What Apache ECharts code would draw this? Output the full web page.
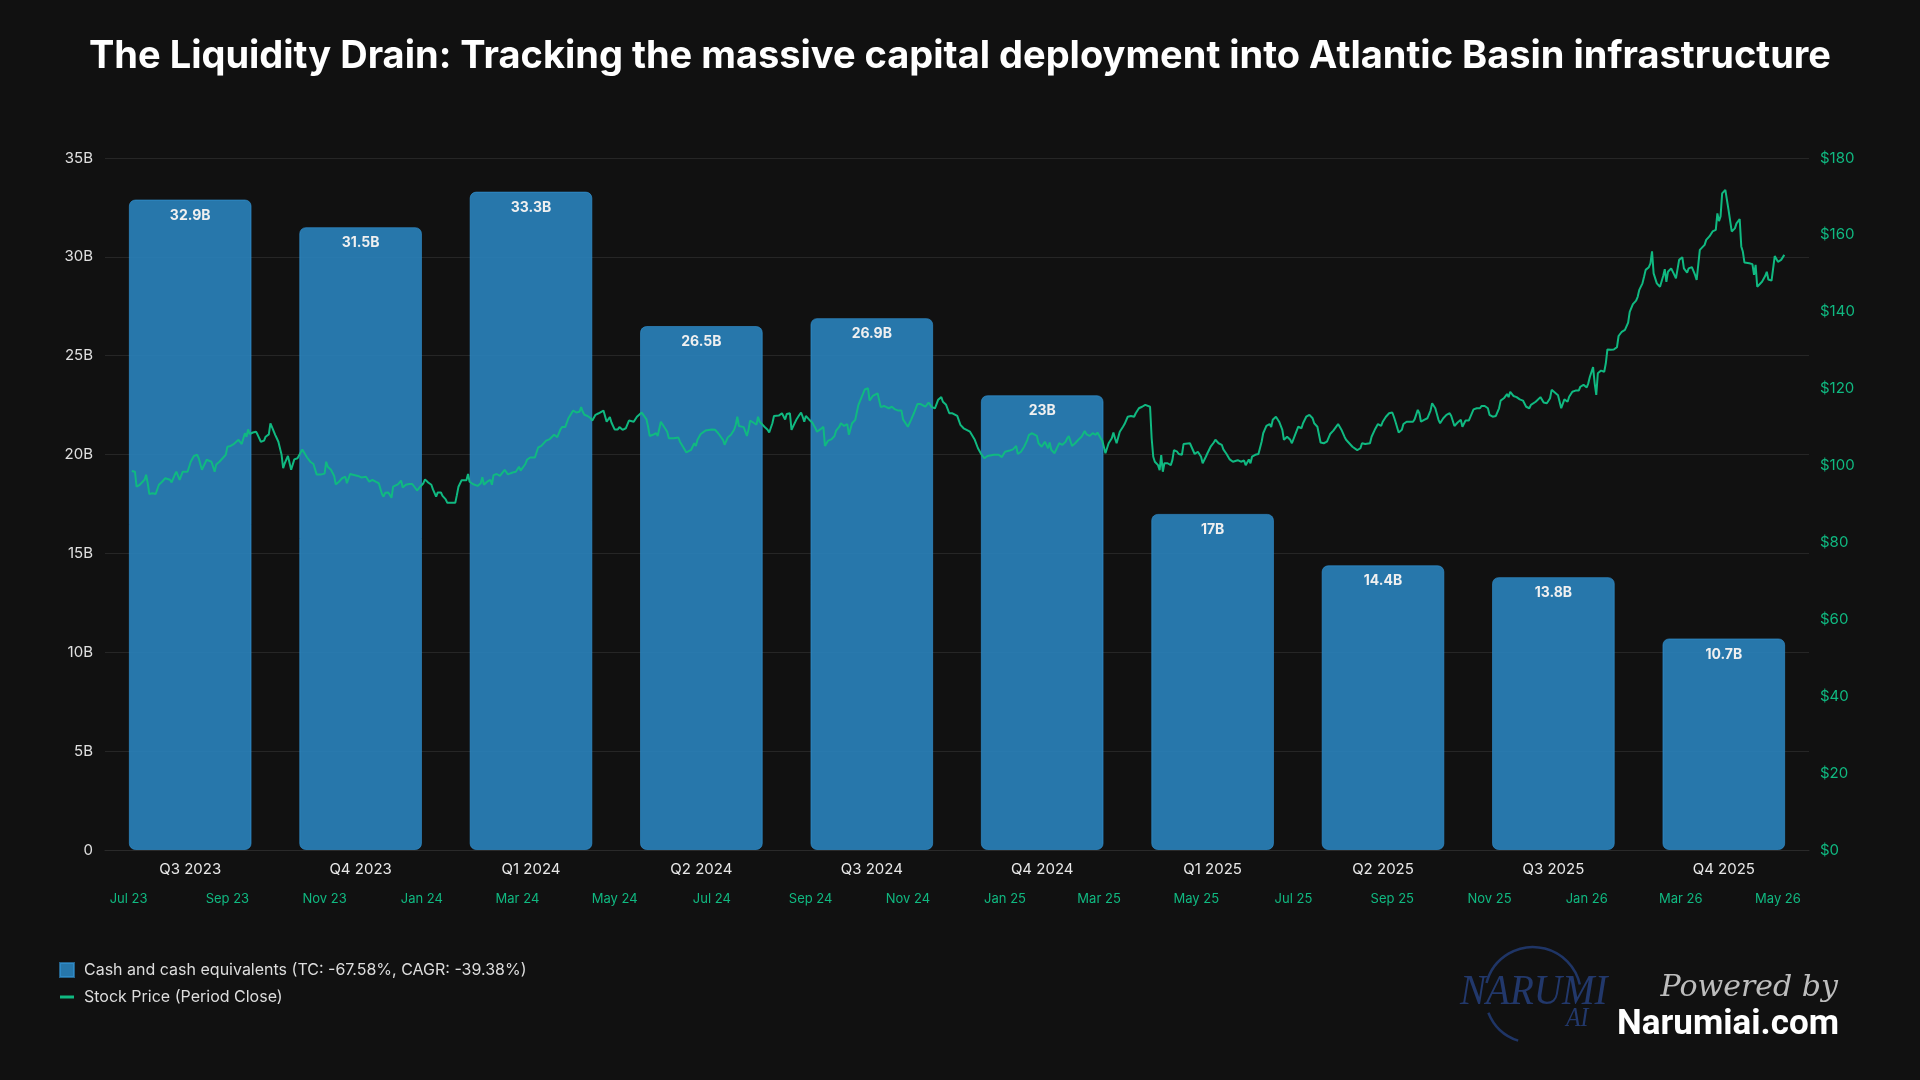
<!DOCTYPE html>
<html><head><meta charset="utf-8">
<script src="https://cdn.jsdelivr.net/npm/echarts@6/dist/echarts.min.js"></script>
<style>html,body{margin:0;padding:0;background:#111111;}#chart{width:1920px;height:1080px;}</style>
</head><body><div id="chart"></div>
<script>
const titleText = 'The Liquidity Drain: Tracking the massive capital deployment into Atlantic Basin infrastructure';
const quarters = ['Q3 2023','Q4 2023','Q1 2024','Q2 2024','Q3 2024','Q4 2024','Q1 2025','Q2 2025','Q3 2025','Q4 2025'];
const cashB = [32.9, 31.5, 33.3, 26.5, 26.9, 23, 17, 14.4, 13.8, 10.7];
const cashName = 'Cash and cash equivalents (TC: -67.58%, CAGR: -39.38%)';
const priceName = 'Stock Price (Period Close)';
const timeTicks = ['2023-07-01','2023-09-01','2023-11-01','2024-01-01','2024-03-01','2024-05-01','2024-07-01','2024-09-01','2024-11-01','2025-01-01','2025-03-01','2025-05-01','2025-07-01','2025-09-01','2025-11-01','2026-01-01','2026-03-01','2026-05-01'];
const monthNames = ['Jan','Feb','Mar','Apr','May','Jun','Jul','Aug','Sep','Oct','Nov','Dec'];
// stock price: days since 2023-07-01 and closing price
const priceBaseDate = '2023-07-01';
const priceDays = [2,4,5,7,10,11,12,13,15,17,19,21,23,24,26,27,29,30,32,34,35,37,39,41,43,44,46,47,49,50,52,54,55,57,59,61,62,64,66,67,69,71,73,74,75,76,78,80,81,83,85,86,88,89,90,92,93,94,96,97,98,100,102,103,104,106,107,109,110,111,112,114,116,117,118,121,123,124,125,127,129,130,132,134,136,137,139,140,142,144,146,147,149,151,153,155,157,159,160,161,163,165,166,167,169,170,171,172,174,176,178,180,181,183,185,186,188,190,191,193,194,196,197,199,200,202,205,206,207,209,210,212,213,214,216,217,219,221,222,223,225,227,228,229,231,233,234,236,238,239,241,243,245,246,247,249,250,252,253,255,257,259,260,262,264,265,267,269,271,272,274,276,277,279,281,283,284,285,286,288,290,291,293,295,296,298,299,300,302,303,305,307,308,310,312,314,315,317,319,320,322,323,325,326,327,329,331,332,334,336,338,339,340,342,345,346,348,350,351,353,355,356,357,359,362,363,366,368,370,371,373,374,376,378,380,381,382,383,386,388,389,390,392,394,395,396,399,401,402,404,405,408,409,410,412,413,415,416,417,419,421,422,423,424,425,427,429,431,432,434,436,437,439,441,443,444,446,447,449,451,452,454,456,457,458,460,462,463,464,465,467,468,470,471,472,474,475,477,479,480,481,483,485,486,487,489,491,493,494,495,497,498,500,502,504,505,506,508,510,511,513,515,517,518,520,522,524,525,528,531,533,535,537,539,543,546,548,550,553,555,557,558,560,562,564,565,567,570,571,573,575,577,578,579,581,582,584,586,588,589,590,592,594,596,598,600,601,603,605,607,608,610,611,612,613,615,617,618,619,620,622,624,625,627,629,631,632,634,636,638,639,641,642,643,644,646,647,648,649,650,652,654,655,656,658,659,661,662,663,666,667,669,671,673,674,676,677,679,681,682,684,686,687,689,691,693,694,696,698,700,701,703,704,705,707,709,711,712,714,716,717,718,720,722,724,725,726,727,729,730,732,734,736,737,739,741,743,744,746,748,750,752,754,756,757,759,761,763,764,766,768,769,771,773,774,776,779,780,782,784,786,787,789,791,793,794,795,797,799,800,802,803,806,807,809,810,811,813,815,817,818,820,822,823,825,827,829,830,832,834,836,837,839,841,842,844,846,848,849,851,853,854,856,858,860,861,863,865,866,867,869,871,873,875,877,879,880,883,884,886,888,890,892,893,895,897,898,899,901,903,904,906,908,910,911,913,915,916,917,919,920,921,922,924,926,927,928,930,932,934,935,937,939,941,942,944,946,947,948,950,951,952,954,955,956,957,959,961,963,964,965,966,968,970,971,973,975,976,978,979,981,983,984,986,987,989,990,991,992,994,996,997,998,999,1000,1002,1003,1004,1006,1008,1009,1011,1012,1013,1014,1017,1019,1020,1021,1022,1023,1025,1027,1028,1029,1031,1033,1034,1035,1037,1038,1039];
const priceClose = [98.6,98.4,94.5,95.0,96.3,97.6,95.4,92.6,92.8,92.6,95.0,95.8,96.7,96.9,96.3,95.6,97.6,98.4,96.3,98.4,98.9,98.4,101.0,102.5,102.8,101.9,98.9,98.4,101.5,101.9,101.0,98.4,100.3,101.0,101.9,102.8,104.9,105.1,105.6,105.4,106.7,105.6,108.4,107.5,109.4,108.2,108.6,108.8,108.0,106.2,106.5,107.5,108.1,111.0,110.0,108.0,107.1,106.2,102.8,99.3,100.6,102.5,98.9,98.4,101.6,101.9,101.5,104.2,104.5,102.8,102.1,101.0,100.4,100.4,97.7,97.7,97.9,101.0,99.7,98.9,97.3,95.1,95.8,96.7,97.1,95.4,97.8,97.8,97.5,97.3,96.9,97.3,97.1,95.8,96.3,95.8,95.4,92.6,91.9,92.9,93.0,91.6,94.5,94.3,95.1,95.4,96.1,94.3,95.0,95.2,95.2,94.1,93.5,94.5,95.4,96.4,95.6,95.0,93.8,91.9,93.0,93.0,92.1,91.2,90.3,90.3,90.3,92.3,94.5,96.2,96.4,96.2,97.8,95.8,95.2,95.0,94.7,95.4,97.0,95.0,95.8,96.3,95.0,97.5,97.8,97.3,96.9,98.9,97.7,98.2,98.2,98.4,99.7,98.7,98.9,100.4,101.5,102.1,102.5,102.1,104.7,105.1,105.6,106.5,106.8,107.1,108.0,107.4,109.4,110.0,110.0,112.3,112.6,114.3,113.8,114.0,115.2,114.0,113.2,112.9,112.3,111.7,113.2,113.6,114.0,114.3,114.3,111.4,112.6,111.2,109.4,109.4,110.0,109.3,109.7,111.7,111.2,111.4,112.7,112.3,113.8,113.2,112.0,110.1,107.7,108.0,108.4,107.7,111.4,110.1,108.8,107.1,107.5,107.1,107.3,106.2,104.8,103.4,103.0,104.1,105.8,105.1,106.7,108.2,109.1,109.3,109.4,109.3,108.4,108.0,106.7,105.4,107.3,108.0,109.3,110.6,112.7,110.3,110.0,107.7,109.3,111.7,111.2,110.6,112.7,111.4,110.1,109.3,108.6,111.0,112.9,113.0,112.9,113.6,112.0,113.4,113.6,109.3,109.4,111.9,113.2,113.8,112.7,111.4,112.9,112.0,111.2,109.7,108.8,109.4,110.1,105.1,106.5,106.8,107.7,109.1,110.1,111.0,110.3,110.8,108.0,111.0,111.9,112.3,115.8,117.8,119.8,120.1,120.1,116.9,118.1,118.6,118.8,118.6,115.2,115.5,115.3,114.9,115.3,115.5,114.6,114.3,114.3,112.0,111.9,110.1,111.9,113.8,113.6,116.0,116.0,115.5,115.3,116.4,115.2,115.5,114.9,117.1,117.8,116.6,115.8,113.6,113.6,113.8,112.9,110.6,109.7,109.3,108.8,106.7,104.5,103.0,101.9,102.5,102.8,102.8,102.2,103.6,103.9,104.2,105.1,103.0,103.6,104.9,106.7,108.0,108.4,107.7,105.8,104.9,106.2,104.5,106.0,104.1,103.2,103.4,105.8,105.4,106.2,107.1,107.7,105.1,105.8,106.7,107.5,109.0,108.2,107.7,108.4,108.0,108.6,107.1,106.5,106.2,103.2,105.8,107.1,108.6,107.1,105.8,108.8,110.1,110.8,112.7,112.9,112.7,113.6,114.9,115.3,115.8,116.0,115.3,107.1,102.3,101.0,100.1,98.8,102.7,98.4,100.6,100.6,100.1,101.4,104.0,103.6,103.0,102.8,105.6,105.8,105.8,106.0,103.0,103.6,102.3,100.6,102.3,103.2,104.9,106.0,106.7,105.8,105.4,104.2,103.0,101.6,101.0,101.3,101.4,101.0,101.3,100.1,101.6,100.6,102.3,102.8,103.0,106.2,108.4,110.3,110.8,110.0,111.9,112.7,111.4,109.3,106.7,107.1,107.5,106.7,105.8,108.0,110.1,109.7,111.0,112.7,113.2,112.3,111.0,110.1,106.0,105.8,106.2,108.2,109.1,109.4,110.8,109.4,107.5,106.7,105.8,104.9,104.5,104.0,104.5,105.8,105.6,105.8,107.5,109.3,110.8,110.3,111.4,112.7,113.6,113.8,112.7,111.4,108.6,109.3,110.8,111.4,111.7,111.4,112.0,114.5,113.6,111.4,111.9,112.3,114.3,116.2,114.9,111.9,111.0,112.3,113.2,113.6,112.9,110.3,111.2,111.9,110.1,111.7,111.7,112.0,114.6,114.9,114.9,115.5,115.5,114.9,113.2,112.7,112.9,114.9,116.9,117.5,118.6,117.8,119.2,118.1,117.8,117.2,116.9,115.3,114.9,115.8,116.6,116.2,117.8,116.4,116.2,117.5,119.7,119.0,118.3,117.9,114.9,117.2,116.6,117.9,119.2,119.5,119.5,120.5,121.0,120.3,121.4,123.1,125.6,121.4,118.4,124.0,124.7,124.4,126.6,130.2,130.1,130.2,130.8,133.7,134.8,135.3,137.2,140.0,142.0,142.9,143.9,145.7,147.4,149.1,150.9,151.6,152.6,155.7,150.0,147.4,146.5,149.3,151.1,147.8,150.4,151.3,149.6,148.7,153.5,154.2,151.3,150.2,151.3,151.6,149.6,148.3,156.1,156.5,157.4,158.7,158.9,159.6,160.9,161.3,165.6,163.6,164.8,170.8,171.7,171.5,166.5,160.9,161.7,163.0,164.1,157.0,155.6,152.8,152.6,152.4,149.6,152.2,146.5,147.0,147.8,149.3,150.4,148.4,148.1,154.5,154.8,153.0,153.5,153.9,154.8];

const DAY = 86400000;
const baseTs = Date.parse(priceBaseDate + 'T00:00:00Z');
const priceData = priceDays.map((d, i) => [baseTs + d * DAY, priceClose[i]]);
const tickTs = timeTicks.map(s => Date.parse(s + 'T00:00:00Z'));

const FONT = 'Inter, "Noto Sans", sans-serif';
const GREEN = '#10b981';

const chart = echarts.init(document.getElementById('chart'), null, {renderer: 'canvas'});
chart.setOption({
  backgroundColor: '#111111',
  animation: false,
  textStyle: {fontFamily: FONT},
  title: {
    text: titleText, left: 'center', top: 33,
    textStyle: {color: '#ffffff', fontSize: 38, fontWeight: 'bold', fontFamily: FONT}
  },
  grid: {left: 105, right: 111, top: 158, bottom: 230, containLabel: false},
  legend: {
    orient: 'vertical', left: 54, top: 957, itemWidth: 14, itemHeight: 14, itemGap: 11,
    textStyle: {color: '#dddddd', fontSize: 16, fontFamily: FONT, padding: [0, 0, 0, 5]},
    data: [{name: cashName, icon: 'rect'}, {name: priceName, icon: 'path://M0,0H14V3H0Z'}]
  },
  xAxis: [
    {
      type: 'category', data: quarters, gridIndex: 0, position: 'bottom',
      axisLine: {show: true, lineStyle: {color: '#2a2a2a'}},
      axisTick: {show: false},
      axisLabel: {color: '#e8e8e8', fontSize: 15, margin: 12, fontFamily: FONT},
      splitLine: {show: false}
    },
    {
      type: 'value', gridIndex: 0, position: 'bottom', scale: true,
      min: baseTs - 14.8 * DAY, max: baseTs + 1054.5 * DAY,
      axisLine: {show: false}, axisTick: {show: false}, splitLine: {show: false},
      axisLabel: {
        customValues: tickTs, color: GREEN, fontSize: 13, margin: 43, fontFamily: FONT,
        hideOverlap: false,
        formatter: function (v) {
          const d = new Date(v);
          return monthNames[d.getUTCMonth()] + ' ' + String(d.getUTCFullYear()).slice(2);
        }
      }
    }
  ],
  yAxis: [
    {
      type: 'value', min: 0, max: 35, interval: 5, position: 'left',
      axisLine: {show: false}, axisTick: {show: false},
      axisLabel: {color: '#e0e0e0', fontSize: 15, margin: 12, fontFamily: FONT,
        formatter: v => v === 0 ? '0' : v + 'B'},
      splitLine: {lineStyle: {color: '#262626', width: 1}}
    },
    {
      type: 'value', min: 0, max: 180, interval: 20, position: 'right',
      axisLine: {show: false}, axisTick: {show: false},
      axisLabel: {color: GREEN, fontSize: 15, margin: 11, fontFamily: FONT,
        formatter: v => '$' + v},
      splitLine: {show: false}
    }
  ],
  series: [
    {
      name: cashName, type: 'bar', xAxisIndex: 0, yAxisIndex: 0,
      data: cashB, barWidth: '72%',
      itemStyle: {color: 'rgba(41,128,185,0.92)', borderRadius: 6, borderColor: 'rgba(52,152,219,0.6)', borderWidth: 1},
      label: {show: true, position: 'insideTop', distance: 9, color: '#f0f0f0',
        fontSize: 14, fontWeight: 'bold', fontFamily: FONT, formatter: p => p.value + 'B'},
      z: 2
    },
    {
      name: priceName, type: 'line', xAxisIndex: 1, yAxisIndex: 1,
      data: priceData, showSymbol: false, symbol: 'none',
      lineStyle: {color: GREEN, width: 2}, itemStyle: {color: GREEN},
      z: 3
    }
  ],
  graphic: [
    {type: 'arc', shape: {cx: 1533, cy: 995, r: 48, startAngle: Math.PI * 1.08, endAngle: Math.PI * 1.93},
      style: {stroke: '#1f3566', lineWidth: 2.5, fill: null}},
    {type: 'arc', shape: {cx: 1533, cy: 995, r: 48, startAngle: Math.PI * 0.6, endAngle: Math.PI * 0.88},
      style: {stroke: '#1f3566', lineWidth: 2.5, fill: null}},
    {type: 'text', x: 1460, y: 993, scaleX: 0.93,
      style: {text: 'NARUMI', fontSize: 42, fontStyle: 'italic', fontFamily: '"Liberation Serif", serif',
        fill: '#22386b', verticalAlign: 'middle', align: 'left'}},
    {type: 'text', x: 1566, y: 1019, scaleX: 0.85,
      style: {text: 'AI', fontSize: 28, fontStyle: 'italic', fontFamily: '"Liberation Serif", serif',
        fill: '#22386b', verticalAlign: 'middle', align: 'left'}},
    {type: 'text', x: 1838, y: 988,
      style: {text: 'Powered by', fontSize: 30, fontStyle: 'italic', fontFamily: '"DejaVu Serif", serif',
        fill: '#bdbdbd', verticalAlign: 'middle', align: 'right'}},
    {type: 'text', x: 1839, y: 1025,
      style: {text: 'Narumiai.com', fontSize: 35, fontWeight: 'bold', fontFamily: 'Roboto, sans-serif',
        fill: '#ffffff', verticalAlign: 'middle', align: 'right'}}
  ]
});
</script>
</body></html>
